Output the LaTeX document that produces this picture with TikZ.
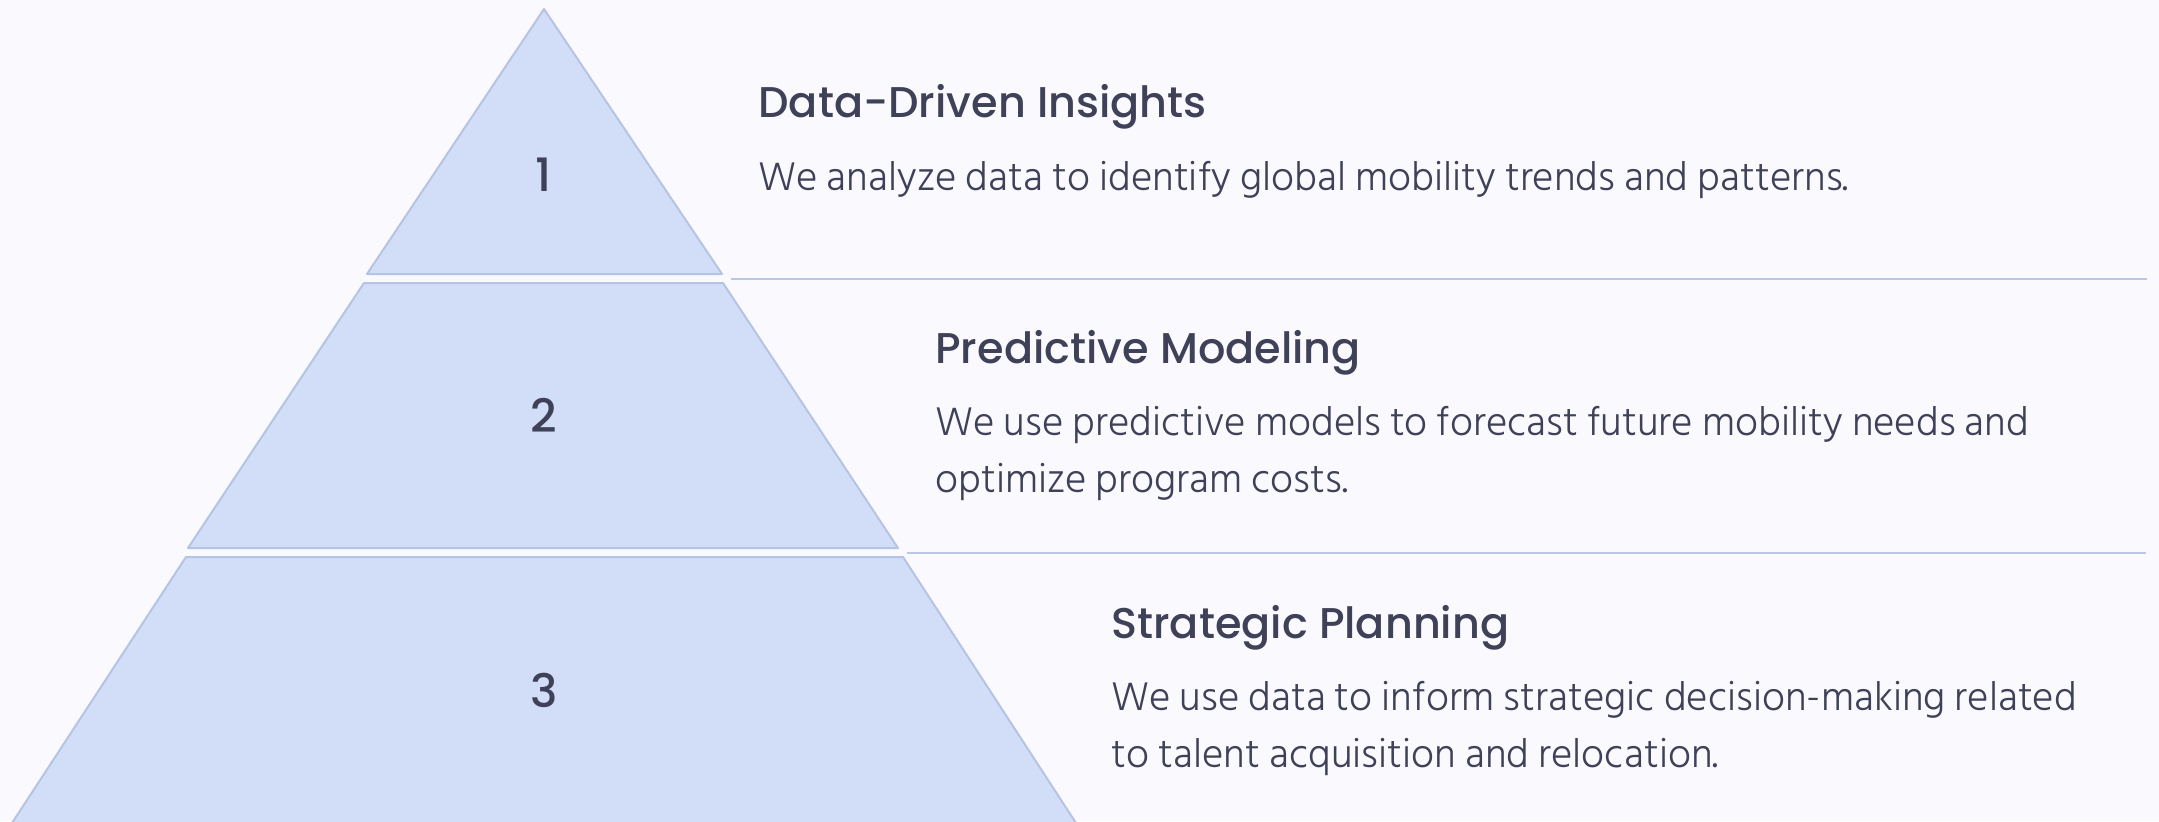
\documentclass[tikz,border=0pt]{standalone}
\usepackage{fontspec}
\setmainfont{Hind Siliguri}[UprightFont=* Light]
\newfontfamily\headfont{Poppins}[UprightFont=* Medium]
\definecolor{bgcol}{HTML}{F9F9FE}
\definecolor{tierfill}{HTML}{D2DEF8}
\definecolor{tierline}{HTML}{B6C4E4}
\definecolor{rulecol}{HTML}{BCC7E2}
\definecolor{inkcol}{HTML}{3F4158}
\tikzset{
  tier/.style={fill=tierfill,draw=tierline,line width=1pt,line join=round},
  tiernum/.style={text=inkcol,font=\headfont\fontsize{23}{23}\selectfont,anchor=center},
  heading/.style={text=inkcol,font=\headfont\fontsize{21.5}{21.5}\selectfont,anchor=base west,inner sep=0pt},
  blurb/.style={text=inkcol,font=\fontsize{20.5}{28.5}\selectfont,anchor=base west,align=left,inner sep=0pt},
  divider/.style={draw=rulecol,line width=1pt}
}
\begin{document}
\begin{tikzpicture}[x=0.5pt,y=-0.5pt]
            % Canvas
            \fill [bgcol] (0,0) rectangle (2159,821);
            \useasboundingbox (0,0) rectangle (2159,821);

            % Pyramid
            \draw [tier] (544,9) -- (722,274) -- (367,274) -- cycle;
            \draw [tier] (364,283) -- (723,283) -- (898,548) -- (188,548) -- cycle;
            \draw [tier] (186,557) -- (903,557) -- (1076,823) -- (12,823) -- cycle;
            \node [tiernum] (n1) at (544,175) {1};
            \node [tiernum] (n2) at (544,415) {2};
            \node [tiernum] (n3) at (544,690) {3};

            % Dividers
            \coordinate (d1a) at (731,279);
            \coordinate (d1b) at (2147,279);
            \coordinate (d2a) at (907,553);
            \coordinate (d2b) at (2146,553);
            \draw [divider] (d1a) -- (d1b);
            \draw [divider] (d2a) -- (d2b);

            % Texts (base of the last line)
            \node [heading] (h1) at (758,117) {Data-Driven Insights};
            \node [blurb] (b1) at (758,190) {We analyze data to identify global mobility trends and patterns.};
            \node [heading] (h2) at (935,363) {Predictive Modeling};
            \node [blurb] (b2) at (935,492) {We use predictive models to forecast future mobility needs and\\optimize program costs.};
            \node [heading] (h3) at (1111,638) {Strategic Planning};
            \node [blurb] (b3) at (1111,767) {We use data to inform strategic decision-making related\\to talent acquisition and relocation.};
        \end{tikzpicture}
\end{document}
